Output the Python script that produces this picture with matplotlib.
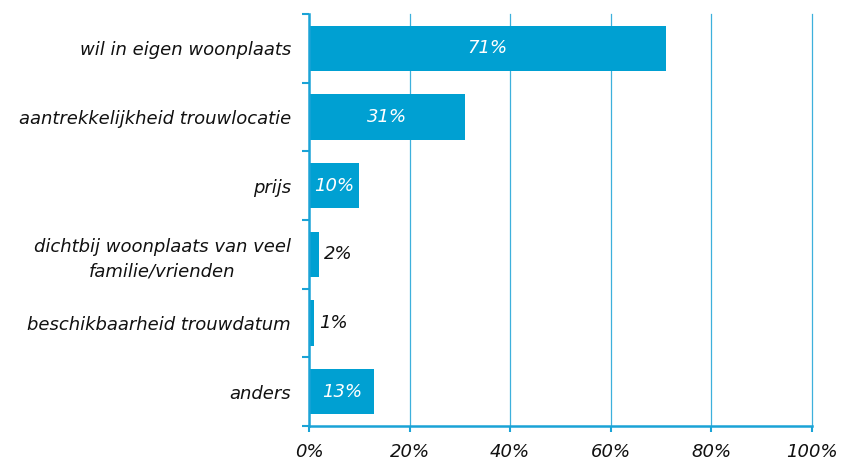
import numpy as np
import matplotlib
matplotlib.use("Agg")
import matplotlib.pyplot as plt

# data
categories = ["wil in eigen woonplaats", "aantrekkelijkheid trouwlocatie", "prijs",
              "dichtbij woonplaats van veel\nfamilie/vrienden",
              "beschikbaarheid trouwdatum", "anders"]
values = [71, 31, 10, 2, 1, 13]
xticks = [0, 20, 40, 60, 80, 100]

bar_col = "#00A0D2"
axis_col = "#1AA3D6"
grid_col = "#3DB0DC"
fs = 13

plt.rcParams["font.family"] = ["DejaVu Sans"]

fig = plt.figure(figsize=(8.42, 4.61), dpi=100)
ax = fig.add_axes([309 / 842, 1 - 426 / 461, 503 / 842, 412 / 461])

pos = np.arange(len(categories))
ax.barh(pos, values, height=0.66, color=bar_col, zorder=3)

ax.set_xlim(0, 100)
ax.set_ylim(len(categories) - 0.5, -0.5)

# gridlines
for x in xticks[1:]:
    ax.axvline(x, color=grid_col, lw=0.9, zorder=1, clip_on=False)

ax.set_xticks(xticks)
ax.set_xticklabels([f"{x}%" for x in xticks], fontsize=fs, style="italic", color="#111111")
ax.tick_params(axis="x", direction="out", length=4, width=1.5, color=axis_col, pad=8)

# category boundaries as major ticks, labels on minor ticks
ax.set_yticks(np.arange(-0.5, len(categories), 1.0))
ax.set_yticklabels([])
ax.tick_params(axis="y", which="major", direction="out", length=5, width=1.5, color=axis_col)
ax.set_yticks(pos, minor=True)
ax.set_yticklabels(categories, minor=True, fontsize=fs, style="italic",
                   color="#111111", ha="right", multialignment="center", linespacing=1.45)
ax.tick_params(axis="y", which="minor", length=0, pad=13)

for s in ["top", "right"]:
    ax.spines[s].set_visible(False)
for s in ["left", "bottom"]:
    ax.spines[s].set_color(axis_col)
    ax.spines[s].set_linewidth(1.8)
    ax.spines[s].set_zorder(4)

for p, v in zip(pos, values):
    if v >= 5:
        ax.text(v / 2, p, f"{v}%", ha="center", va="center", color="white",
                fontsize=fs, style="italic", zorder=5)
    else:
        ax.text(v + 1.0, p, f"{v}%", ha="left", va="center", color="#111111",
                fontsize=fs, style="italic", zorder=5)

fig.savefig("out.png", dpi=100)
